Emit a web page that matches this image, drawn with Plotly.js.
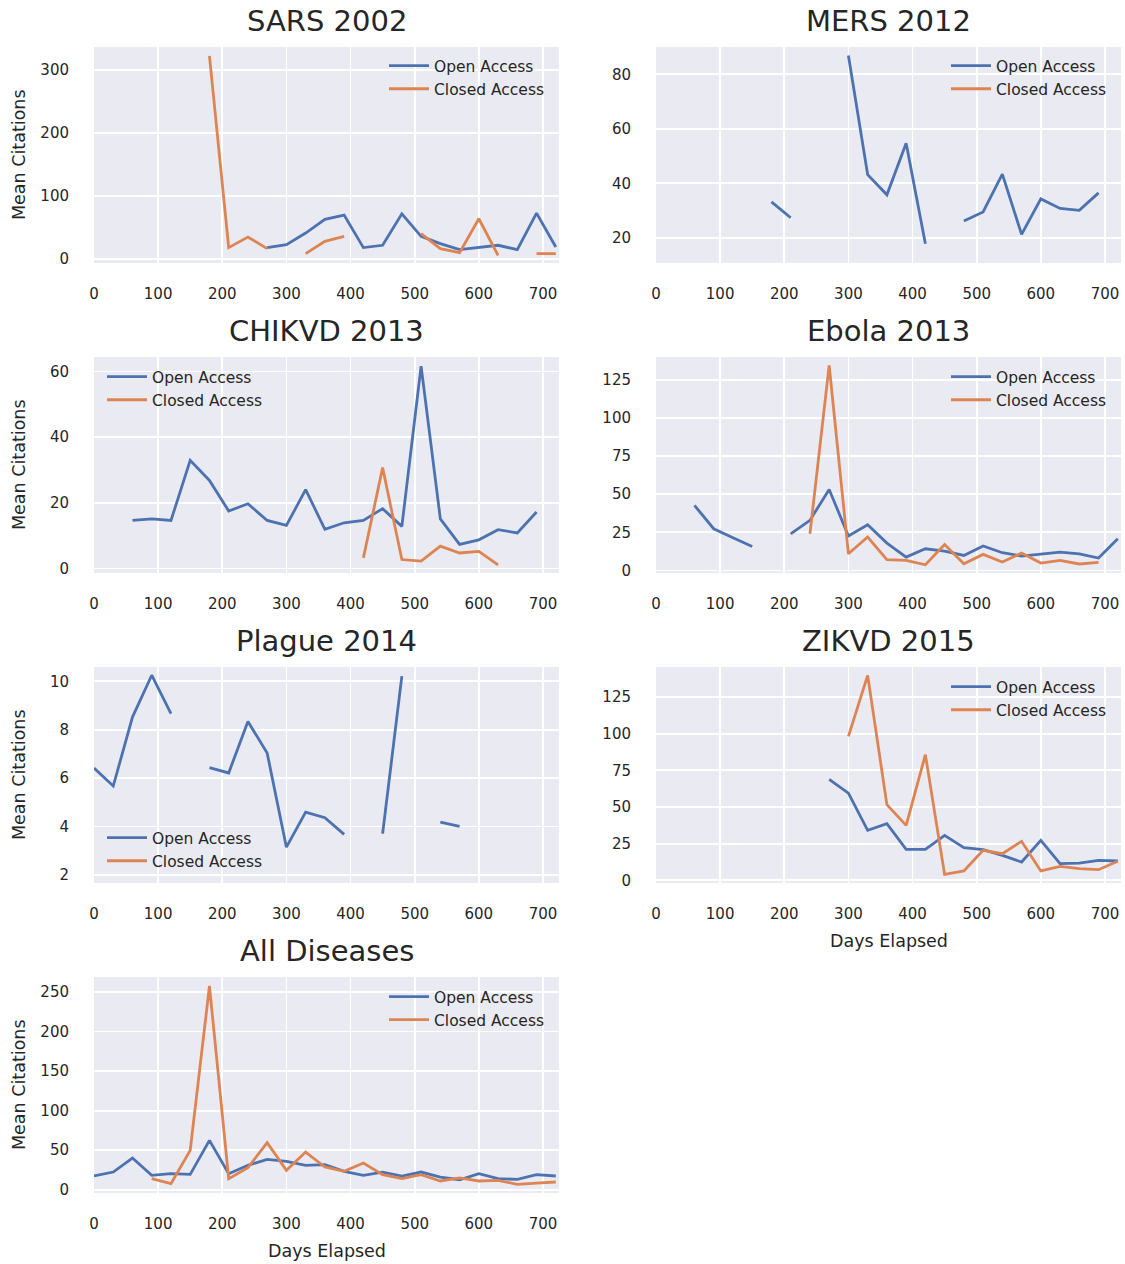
<!DOCTYPE html>
<html>
<head>
<meta charset="utf-8">
<script src="https://cdn.plot.ly/plotly-3.0.1.min.js"></script>
<style>
  html, body { margin: 0; padding: 0; background: #ffffff; }
  #chart { width: 1125px; height: 1264px; }
</style>
</head>
<body>
<div id="chart"></div>
<script>
// Days since outbreak start, sampled every 30 days
const days = [0, 30, 60, 90, 120, 150, 180, 210, 240, 270, 300, 330, 360,
              390, 420, 450, 480, 510, 540, 570, 600, 630, 660, 690, 720];

const panelTitles = ['SARS 2002', 'MERS 2012', 'CHIKVD 2013', 'Ebola 2013',
                     'Plague 2014', 'ZIKVD 2015', 'All Diseases'];
const seriesNames = ['Open Access', 'Closed Access'];
const xTickValues = [0, 100, 200, 300, 400, 500, 600, 700];

// Mean citations per 30-day bin (null = no papers in that bin)
const sarsOpen = [null, null, null, null, null, null, null, null, null, 17.5, 22.2, 40.7, 62.4,
                  69.3, 17.5, 21.2, 71.4, 35.4, 23.8, 14.3, 17.5, 21.2, 14.3, 72.5, 18.5];
const sarsClosed = [null, null, null, null, null, null, 322.8, 17.5, 34.4, 15.9, null, 7.9, 27.5,
                    35.4, null, null, null, 39.7, 15.9, 9.5, 63.5, 5.3, null, 7.9, 7.9];

const mersOpen = [null, null, null, null, null, null, 33.2, 27.4, null, null, 86.9, 43.2, 35.8,
                  54.7, 17.9, null, 26.2, 29.5, 43.4, 21.3, 34.3, 30.8, 30.1, 36.5, null];
const mersClosed = [null, null, null, null, null, null, null, null, null, null, null, null, null,
                    null, null, null, null, null, null, null, null, null, null, null, null];

const chikvdOpen = [null, null, 14.6, 15.1, 14.6, 32.9, 26.8, 17.5, 19.7, 14.6, 13.1, 24.0, 11.9,
                    13.9, 14.6, 18.2, 12.8, 61.6, 15.1, 7.3, 8.7, 11.8, 10.8, 17.2, null];
const chikvdClosed = [null, null, null, null, null, null, null, null, null, null, null, null, null,
                      null, 3.2, 30.7, 2.7, 2.2, 6.8, 4.7, 5.2, 1.1, null, null, null];

const ebolaOpen = [null, null, 42.6, 27.3, 21.4, 15.7, null, 24.0, 32.8, 53.1, 22.5, 29.9, 17.9,
                   8.7, 14.2, 12.7, 9.8, 16.0, 11.6, 9.4, 10.9, 12.0, 10.9, 8.1, 20.8];
const ebolaClosed = [null, null, null, null, null, null, null, null, 24.0, 134.4, 10.9, 21.9, 7.0,
                     6.6, 3.7, 17.0, 4.4, 10.5, 5.5, 11.4, 4.8, 6.6, 4.2, 5.2, null];

const plagueOpen = [6.41, 5.67, 8.52, 10.25, 8.66, null, 6.43, 6.21, 8.34, 7.03, 3.14, 4.59, 4.36,
                    3.67, null, 3.70, 10.21, null, 4.18, 4.00, null, null, null, null, null];
const plagueClosed = [null, null, null, null, null, null, null, null, null, null, null, null, null,
                      null, null, null, null, null, null, null, null, null, null, null, null];

const zikvdOpen = [null, null, null, null, null, null, null, null, null, 68.9, 59.5, 34.1, 38.6,
                   21.1, 21.1, 30.7, 22.3, 20.9, 17.0, 12.5, 27.3, 11.4, 11.8, 13.6, 13.2];
const zikvdClosed = [null, null, null, null, null, null, null, null, null, null, 98.2, 139.8, 51.6,
                     37.5, 85.7, 4.1, 6.4, 20.5, 18.2, 26.6, 6.4, 9.5, 8.0, 7.3, 13.0];

const allOpen = [17.3, 22.3, 40.0, 18.1, 20.2, 19.4, 62.4, 20.2, 30.8, 38.4, 35.8, 30.8, 31.6,
                 23.2, 18.1, 22.3, 17.3, 22.3, 16.0, 12.6, 20.2, 13.9, 13.1, 19.0, 17.3];
const allClosed = [null, null, null, 13.9, 7.6, 49.7, 257.6, 13.9, 27.8, 59.4, 24.5, 47.6, 28.7,
                   23.2, 33.7, 19.0, 13.9, 19.0, 11.0, 14.8, 11.0, 11.8, 6.7, 8.4, 9.7];

const openSeries = [sarsOpen, mersOpen, chikvdOpen, ebolaOpen, plagueOpen, zikvdOpen, allOpen];
const closedSeries = [sarsClosed, mersClosed, chikvdClosed, ebolaClosed, plagueClosed, zikvdClosed, allClosed];

// ---- figure geometry (pixels) ----
const W = 1125, H = 1264;
const colLeft = [[94, 559], [656, 1121]];
const rowTop = 47, rowH = 216, rowStep = 310;

// per-panel axis settings
const yRanges = [[-7, 337], [10.8, 90], [-1.4, 64.4], [-1.7, 139.9],
                 [1.66, 10.59], [-1.8, 145.5], [-4.2, 269]];
const yDticks = [100, 20, 20, 25, 2, 25, 50];
// legend anchor: [line start x, first row centre y]
const legendPos = [[389, 66], [951, 66], [107, 377], [951, 377],
                   [107, 838], [951, 687], [389, 997]];

const blue = '#4c72b0', orange = '#dd8452';
const textColor = '#262626';
const fontFamily = 'DejaVu Sans, sans-serif';
const lineW = 2.8;

const px = v => v / W;
const py = v => 1 - v / H;

const traces = [];
const layout = {
  width: W, height: H,
  margin: {l: 0, r: 0, t: 0, b: 0},
  paper_bgcolor: '#ffffff',
  plot_bgcolor: '#eaeaf2',
  font: {family: fontFamily, color: textColor, size: 15},
  annotations: [],
  showlegend: true
};

for (let i = 0; i < 7; i++) {
  const col = i % 2, row = Math.floor(i / 2);
  const [x0, x1] = colLeft[col];
  const top = rowTop + row * rowStep, bottom = top + rowH;
  const n = i + 1;
  const xa = n === 1 ? 'x' : 'x' + n;
  const ya = n === 1 ? 'y' : 'y' + n;
  const legName = n === 1 ? 'legend' : 'legend' + n;

  traces.push({
    type: 'scatter', mode: 'lines', x: days, y: openSeries[i],
    name: seriesNames[0], xaxis: xa, yaxis: ya, legend: legName,
    line: {color: blue, width: lineW}, connectgaps: false
  });
  traces.push({
    type: 'scatter', mode: 'lines', x: days, y: closedSeries[i],
    name: seriesNames[1], xaxis: xa, yaxis: ya, legend: legName,
    line: {color: orange, width: lineW}, connectgaps: false
  });

  const axCommon = {
    showgrid: true, gridcolor: '#ffffff', gridwidth: 1.8,
    zeroline: false, showline: false,
    ticks: 'outside', tickcolor: 'rgba(0,0,0,0)',
    tickfont: {family: fontFamily, size: 15, color: textColor}
  };
  layout[n === 1 ? 'xaxis' : 'xaxis' + n] = Object.assign({}, axCommon, {
    domain: [px(x0), px(x1)], anchor: ya, range: [0, 725],
    tickmode: 'array', tickvals: xTickValues, ticklen: 17
  });
  layout[n === 1 ? 'yaxis' : 'yaxis' + n] = Object.assign({}, axCommon, {
    domain: [py(bottom), py(top)], anchor: xa, range: yRanges[i],
    tick0: 0, dtick: yDticks[i], ticklen: 21
  });

  const [lx, ly] = legendPos[i];
  layout[legName] = {
    x: px(lx - 5), xanchor: 'left', xref: 'paper',
    y: py(ly - 17), yanchor: 'top', yref: 'paper',
    bgcolor: 'rgba(0,0,0,0)', borderwidth: 0, itemwidth: 40,
    font: {family: fontFamily, size: 15.5, color: textColor}
  };

  // panel title
  layout.annotations.push({
    text: panelTitles[i], xref: 'paper', yref: 'paper',
    x: px((x0 + x1) / 2), y: py(top - 26), xanchor: 'center', yanchor: 'middle',
    showarrow: false, font: {family: fontFamily, size: 29, color: textColor}
  });
  if (col === 0) {
    layout.annotations.push({
      text: 'Mean Citations', xref: 'paper', yref: 'paper',
      x: px(19), y: py((top + bottom) / 2), xanchor: 'center', yanchor: 'middle',
      textangle: -90, showarrow: false,
      font: {family: fontFamily, size: 17.5, color: textColor}
    });
  }
  if (i >= 5) {
    layout.annotations.push({
      text: 'Days Elapsed', xref: 'paper', yref: 'paper',
      x: px((x0 + x1) / 2), y: py(bottom + 58), xanchor: 'center', yanchor: 'middle',
      showarrow: false, font: {family: fontFamily, size: 17.5, color: textColor}
    });
  }
}

Plotly.newPlot('chart', traces, layout, {staticPlot: true, displayModeBar: false});
</script>
</body>
</html>
